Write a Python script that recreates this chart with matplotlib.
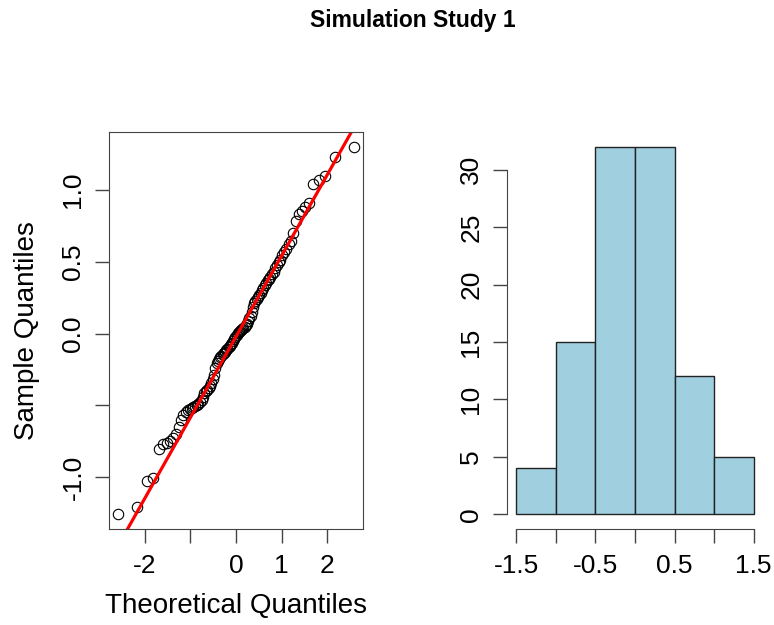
import matplotlib
matplotlib.use("Agg")
import matplotlib.pyplot as plt
import numpy as np
from statistics import NormalDist

plt.rcParams['font.family'] = ['Liberation Sans', 'DejaVu Sans']
plt.rcParams['axes.unicode_minus'] = False

# sorted sample values (n = 100)
sample = [
    -1.257, -1.206, -1.026, -1.007, -0.800, -0.771, -0.760, -0.748, -0.725, -0.700,
    -0.650, -0.600, -0.565, -0.545, -0.530, -0.522, -0.515, -0.508, -0.502, -0.495,
    -0.488, -0.478, -0.462, -0.440, -0.410, -0.398, -0.390, -0.380, -0.368, -0.345,
    -0.318, -0.290, -0.240, -0.205, -0.192, -0.180, -0.165, -0.155, -0.145, -0.135,
    -0.125, -0.115, -0.105, -0.095, -0.085, -0.075, -0.065, -0.052, -0.040, -0.025,
    -0.010, 0.003, 0.010, 0.018, 0.025, 0.032, 0.040, 0.048, 0.058, 0.070,
    0.085, 0.105, 0.125, 0.150, 0.185, 0.210, 0.225, 0.240, 0.255, 0.268,
    0.282, 0.300, 0.318, 0.335, 0.355, 0.370, 0.383, 0.397, 0.412, 0.430,
    0.455, 0.475, 0.495, 0.515, 0.545, 0.570, 0.590, 0.625, 0.645, 0.700,
    0.780, 0.835, 0.855, 0.880, 0.905, 1.040, 1.070, 1.095, 1.230, 1.300,
]
hist_breaks = [-1.5, -1.0, -0.5, 0.0, 0.5, 1.0, 1.5]

qq_xticks = [-2, -1, 0, 1, 2]
qq_xlabels = ['-2', '', '0', '1', '2']
qq_yticks = [-1.0, -0.5, 0.0, 0.5, 1.0]
qq_ylabels = ['-1.0', '', '0.0', '0.5', '1.0']
hist_yticks = [0, 5, 10, 15, 20, 25, 30]
hist_xlabels = ['-1.5', '', '-0.5', '', '0.5', '', '1.5']

# theoretical quantiles as in R's qqnorm (ppoints, a = 0.5)
n = len(sample)
nd = NormalDist()
theo = [nd.inv_cdf((i + 0.5) / n) for i in range(n)]

# qqline through the quartiles
q1, q3 = np.quantile(sample, [0.25, 0.75])
z1, z3 = nd.inv_cdf(0.25), nd.inv_cdf(0.75)
slope = (q3 - q1) / (z3 - z1)
intercept = q1 - slope * z1

W, H = 774, 625
fig = plt.figure(figsize=(W / 100, H / 100), dpi=100)
axis_col = '#444444'

# left: normal QQ plot
ax1 = fig.add_axes([109 / W, 1 - 529 / H, 254 / W, 397 / H])
ax1.plot(theo, sample, 'o', mfc='none', mec='black', ms=7.5, mew=0.8)
ax1.axline((0, intercept), slope=slope, color='red', lw=2.3)
xr = max(theo) - min(theo)
ax1.set_xlim(min(theo) - 0.04 * xr, max(theo) + 0.04 * xr)
yr = max(sample) - min(sample)
ax1.set_ylim(min(sample) - 0.04 * yr, max(sample) + 0.04 * yr)
ax1.set_xticks(qq_xticks, qq_xlabels)
ax1.set_yticks(qq_yticks, qq_ylabels)
for s in ax1.spines.values():
    s.set_color(axis_col)
ax1.set_xlabel('Theoretical Quantiles', fontsize=20, va='center')
ax1.xaxis.set_label_coords(0.5, -0.194)
ax1.set_ylabel('Sample Quantiles', fontsize=20, va='center')
ax1.yaxis.set_label_coords(-0.323, 0.5)

# right: histogram
ax2 = fig.add_axes([507 / W, 1 - 529 / H, 256 / W, 397 / H])
ax2.hist(sample, bins=hist_breaks, color='#a0cfe0', edgecolor='#222222', lw=1)
ax2.set_xlim(-1.5 - 0.12, 1.5 + 0.12)
ax2.set_ylim(-0.04 * 32, 32 * 1.04)
ax2.set_xticks(hist_breaks, hist_xlabels)
ax2.set_yticks(hist_yticks)
for side in ['top', 'right']:
    ax2.spines[side].set_visible(False)
ax2.spines['left'].set_bounds(0, 30)
ax2.spines['bottom'].set_bounds(-1.5, 1.5)
for s in ax2.spines.values():
    s.set_color(axis_col)

for ax in (ax1, ax2):
    ax.tick_params(axis='x', length=10, width=1, color=axis_col, pad=8, labelsize=19)
    ax.tick_params(axis='y', length=10, width=1, color=axis_col, pad=7, labelsize=19)
    plt.setp(ax.get_yticklabels(), rotation=90, va='center')

fig.text(412.5 / W, 1 - 26.7 / H, 'Simulation Study 1', ha='center', va='baseline',
         fontsize=16.5, fontweight='bold')

fig.savefig('out.png', dpi=100)
